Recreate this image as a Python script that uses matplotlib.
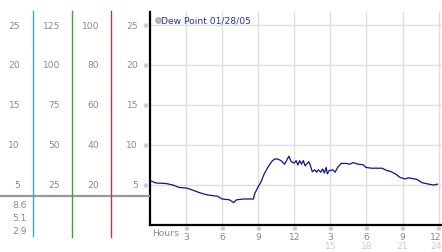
import matplotlib.pyplot as plt

# dew point trace, hours since midnight
hours = [0.0, 0.5, 1.2, 1.45, 1.9, 2.4, 3.1, 3.65, 4.2, 4.8, 5.6, 6.0, 6.6, 6.95,
         7.2, 7.8, 8.6, 8.7, 8.97, 9.25, 9.5, 9.8, 10.1, 10.36, 10.6, 10.9, 11.2,
         11.3, 11.55, 11.75, 12.0, 12.15, 12.3, 12.45, 12.6, 12.75, 12.9, 13.2,
         13.3, 13.5, 13.7, 13.85, 14.0, 14.2, 14.35, 14.5, 14.65, 14.75, 14.9,
         15.2, 15.4, 15.6, 15.9, 16.3, 16.6, 16.9, 17.3, 17.7, 17.95, 18.4, 19.3,
         19.7, 20.0, 20.4, 20.8, 21.2, 21.5, 22.2, 22.6, 23.2, 23.6, 23.9]
dewpt = [5.55, 5.25, 5.2, 5.15, 5.0, 4.7, 4.6, 4.3, 4.0, 3.75, 3.6, 3.25, 3.15, 2.8,
         3.15, 3.25, 3.25, 3.9, 4.7, 5.45, 6.4, 7.2, 7.9, 8.25, 8.25, 8.05, 7.6,
         7.9, 8.6, 7.9, 7.75, 8.05, 7.5, 8.05, 7.6, 8.05, 7.4, 7.9,
         7.6, 6.65, 6.9, 6.6, 6.9, 6.6, 7.0, 6.5, 7.2, 6.4, 6.8,
         6.9, 6.6, 7.2, 7.7, 7.7, 7.6, 7.8, 7.6, 7.55, 7.2, 7.1, 7.1,
         6.8, 6.7, 6.4, 5.95, 5.75, 5.9, 5.7, 5.3, 5.1, 5.0, 5.1]

tick_hours = [3, 6, 9, 12, 15, 18, 21, 24]
tick_top = ['3', '6', '9', '12', '3', '6', '9', '12']
tick_bot = ['', '', '', '', '15', '18', '21', '24']

dp_ticks = [25, 20, 15, 10, 5]
col1 = ['25', '20', '15', '10', '5']
col2 = ['125', '100', '75', '50', '25']
col3 = ['100', '80', '60', '40', '20']
stats = ['8.6', '5.1', '2.9']

W, H = 442, 253
fig = plt.figure(figsize=(W / 100, H / 100), dpi=100)
fs = 6.6
grey = '#888888'

# main plot
ax = fig.add_axes([150 / W, (H - 226) / H, (441 - 150) / W, (226 - 13) / H])
ax.plot(hours, dewpt, color='#10109a', lw=0.9)
ax.set_xlim(0, 24.2)
ax.set_ylim(0, 26.625)
ax.set_xticks(tick_hours)
ax.set_yticks(dp_ticks)
ax.grid(True, color='#dddddd', lw=1)
ax.tick_params(length=0, labelbottom=False, labelleft=False)
for s in ['top', 'right']:
    ax.spines[s].set_visible(False)
ax.spines['left'].set_linewidth(1.6)
ax.spines['bottom'].set_linewidth(1.6)

for h, t, b in zip(tick_hours, tick_top, tick_bot):
    xl = h - 0.2 if h == 24 else h
    ax.text(h, -0.4, '※', fontsize=5, color='#999999', ha='center', va='center', clip_on=False)
    ax.text(xl, -1.4, t, fontsize=fs, color=grey, ha='center', va='center', clip_on=False)
    ax.text(xl, -2.6, b, fontsize=fs, color='#cccccc', ha='center', va='center', clip_on=False)
ax.text(0.2, -0.9, 'Hours', fontsize=fs, color=grey, ha='left', va='center', clip_on=False)

ax.plot([0.7], [25.6], 'o', ms=4, mfc='#bbbbbb', mec='#999999', mew=0.6, clip_on=False)
ax.text(0.95, 25.6, 'Dew Point 01/28/05', fontsize=fs, color='#2233aa', ha='left', va='center')

# left scale panel
lax = fig.add_axes([0, 0, 150 / W, 1])
lax.set_xlim(0, 150)
lax.set_ylim(-27 / 8, 226 / 8)
lax.axis('off')

lax.plot([0, 150], [3.6, 3.6], color='#999999', lw=1.6)
lax.plot([33.3, 33.3], [26.75, -1.4], color='#33aadd', lw=1)
lax.plot([72.3, 72.3], [26.75, -1.5], color='#33aa33', lw=1)
lax.plot([111.3, 111.3], [26.75, -1.5], color='#cc3333', lw=1)

for v, a, b, c in zip(dp_ticks, col1, col2, col3):
    lax.text(20, v, a, fontsize=fs, color=grey, ha='right', va='center')
    lax.text(60, v, b, fontsize=fs, color=grey, ha='right', va='center')
    lax.text(99, v, c, fontsize=fs, color=grey, ha='right', va='center')
    lax.text(138, v, str(v), fontsize=fs, color=grey, ha='right', va='center')
    lax.text(145.5, v, '※', fontsize=5, color='#999999', ha='center', va='center')

for i, s in enumerate(stats):
    lax.text(27, 2.6 - i * 1.65, s, fontsize=fs, color=grey, ha='right', va='center')

fig.savefig('out.png', dpi=100)
